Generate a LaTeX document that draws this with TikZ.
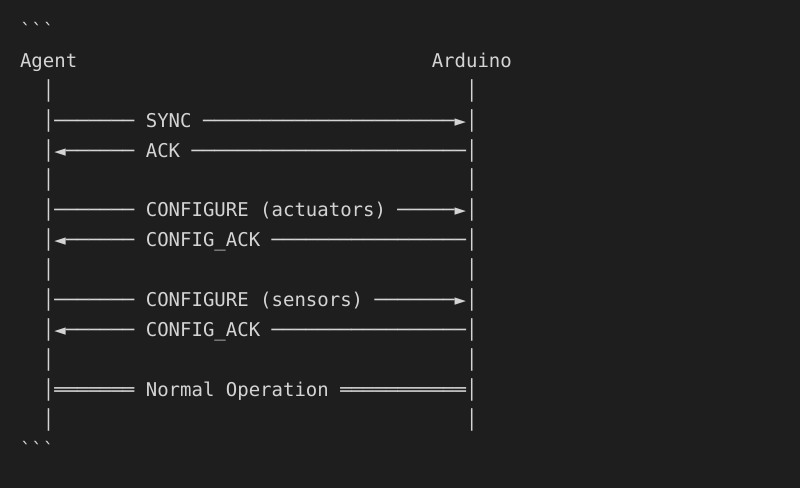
\documentclass[tikz,border=0pt]{standalone}
\usepackage{fontspec}
\newfontfamily\codefont{DejaVu Sans Mono}
\definecolor{bgdark}{RGB}{30,30,30}
\definecolor{inkgray}{RGB}{212,212,212}
\tikzset{every picture/.style={line width=0.5pt}}
\tikzset{codeline/.style={anchor=base west, inner sep=0pt, outer sep=0pt, text=inkgray, font=\codefont\fontsize{14.25pt}{14.25pt}\selectfont}}

\begin{document}
\begin{tikzpicture}[x=0.75pt,y=0.75pt,yscale=-1,xscale=1]
%set diagram left start at 0, and has height of 488
\fill [bgdark] (0,0) rectangle (800,488);
\useasboundingbox (0,0) rectangle (800,488);

% Text Node
\draw (20,37.5) node [codeline] (fenceopen) {\textasciigrave\textasciigrave\textasciigrave};
% Text Node
\draw (20,67.4) node [codeline] (heads) {Agent~~~~~~~~~~~~~~~~~~~~~~~~~~~~~~~Arduino};
% Text Node
\draw (20,97.3) node [codeline] (lifea) {~~│~~~~~~~~~~~~~~~~~~~~~~~~~~~~~~~~~~~~│};
% Text Node
\draw (20,127.2) node [codeline] (sync) {~~│───────~SYNC~──────────────────────►│};
% Text Node
\draw (20,157.1) node [codeline] (ack) {~~│◄──────~ACK~────────────────────────│};
% Text Node
\draw (20,187.0) node [codeline] (lifeb) {~~│~~~~~~~~~~~~~~~~~~~~~~~~~~~~~~~~~~~~│};
% Text Node
\draw (20,216.9) node [codeline] (cfgact) {~~│───────~CONFIGURE~(actuators)~─────►│};
% Text Node
\draw (20,246.8) node [codeline] (cfgacka) {~~│◄──────~CONFIG\_ACK~─────────────────│};
% Text Node
\draw (20,276.7) node [codeline] (lifec) {~~│~~~~~~~~~~~~~~~~~~~~~~~~~~~~~~~~~~~~│};
% Text Node
\draw (20,306.6) node [codeline] (cfgsens) {~~│───────~CONFIGURE~(sensors)~───────►│};
% Text Node
\draw (20,336.5) node [codeline] (cfgackb) {~~│◄──────~CONFIG\_ACK~─────────────────│};
% Text Node
\draw (20,366.4) node [codeline] (lifed) {~~│~~~~~~~~~~~~~~~~~~~~~~~~~~~~~~~~~~~~│};
% Text Node
\draw (20,396.3) node [codeline] (normalop) {~~│═══════~Normal~Operation~═══════════│};
% Text Node
\draw (20,426.2) node [codeline] (lifee) {~~│~~~~~~~~~~~~~~~~~~~~~~~~~~~~~~~~~~~~│};
% Text Node
\draw (20,456.1) node [codeline] (fenceclose) {\textasciigrave\textasciigrave\textasciigrave};

\end{tikzpicture}
\end{document}
